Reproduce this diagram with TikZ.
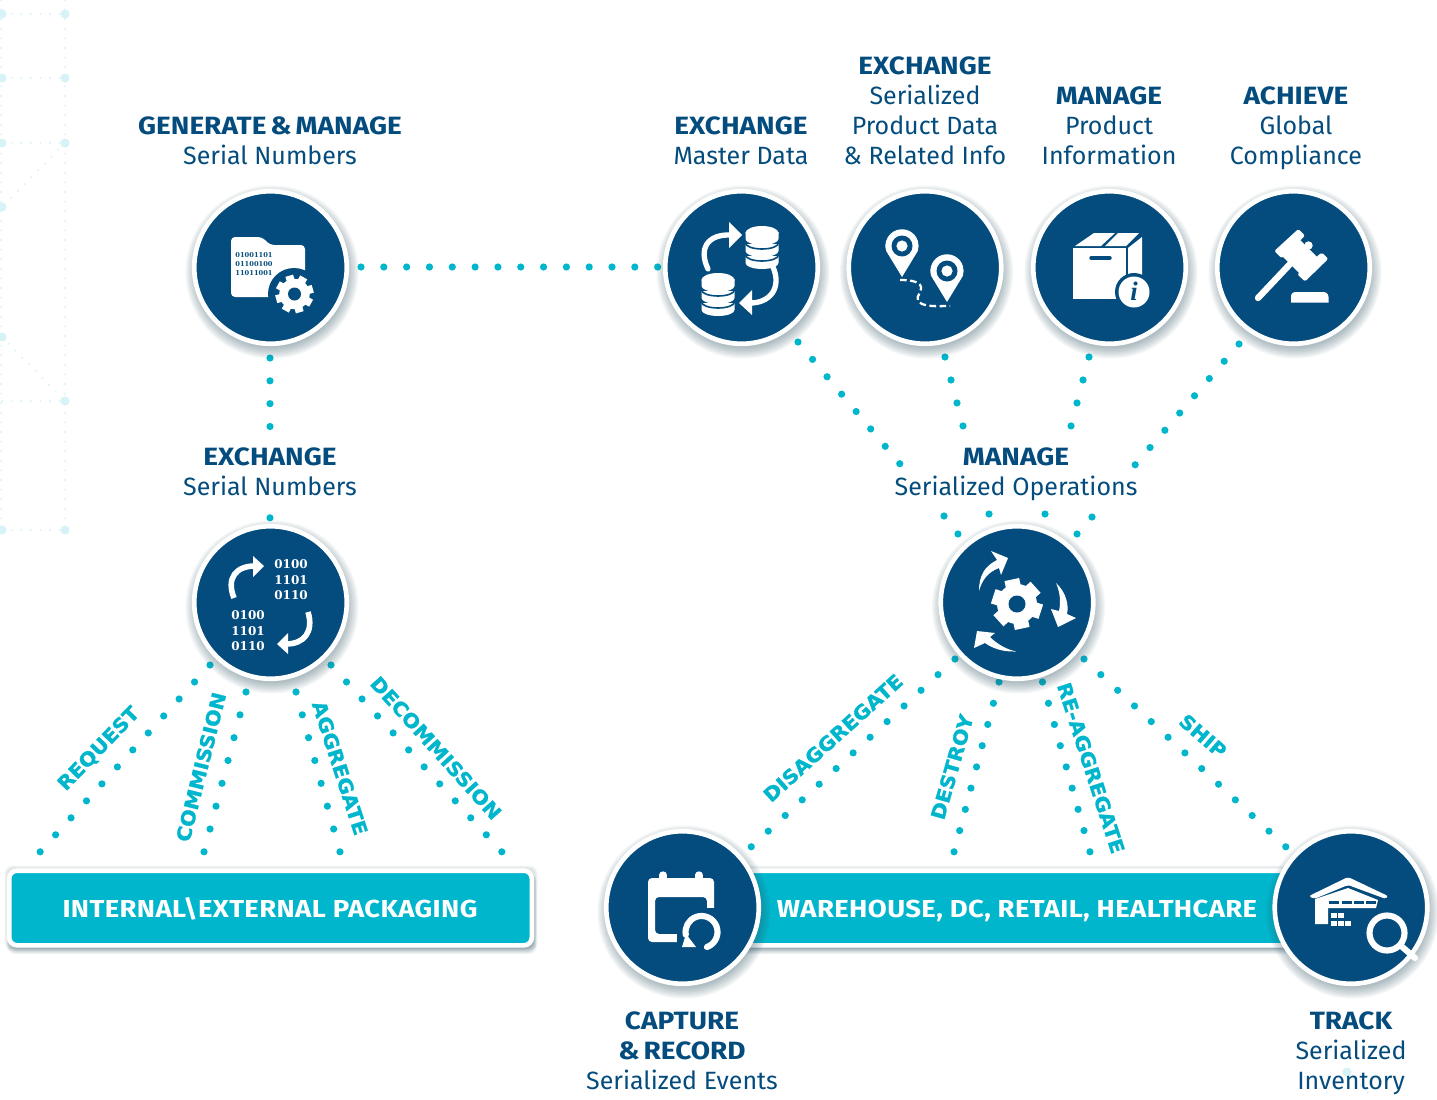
\documentclass[tikz,border=0pt]{standalone}
\usepackage{fontspec}
\usepackage{graphicx}
\setmainfont{Fira Sans}
\newfontfamily\hb{Fira Sans}[FakeStretch=1.12,WordSpace=0.6]
\newfontfamily\hbb{Fira Sans}[FakeStretch=1.12,LetterSpace=1.55]
\newfontfamily\lblfont{DejaVu Sans}[BoldFeatures={FakeStretch=1.07,FakeBold=1.2}]
\newfontfamily\binfont{DejaVu Serif}
\newfontfamily\ifont{Liberation Serif}
\usetikzlibrary{calc}
\definecolor{navy}{HTML}{044C7D}
\definecolor{tealc}{HTML}{00B6CC}
\definecolor{palec}{HTML}{D8F3F6}
\definecolor{shadc}{HTML}{2F5564}
\tikzset{
 x=0.75pt,y=-0.75pt,
 badge/.style={circle,fill=navy,draw=white,line width=3.5pt,minimum size=114.4pt,inner sep=0pt},
 dotlink/.style={draw=tealc,line width=5.4pt,line cap=round},
 paledot/.style={draw=palec,line width=1.6pt,line cap=round,dash pattern=on 0pt off 7.2pt},
 head/.style={font=\fontsize{18.75}{22.5}\selectfont,text=navy,align=center,inner sep=0pt},
 tag/.style={font=\lblfont\bfseries\fontsize{14.5}{14.5}\selectfont,text=tealc,inner sep=0pt},
 bar/.style={rounded corners=6pt,fill=tealc,draw=white,line width=3.5pt,inner sep=0pt},
 bartext/.style={inner sep=0pt,font=\hbb\bfseries\fontsize{18.4}{20}\selectfont,text=white},
 ic/.style={fill=white,draw=none},
 icl/.style={draw=white,line cap=round,line join=round},
}
\newcommand\hd[1]{{\hb\bfseries #1}}
\newcommand\dotline[3]{%
 \path let \p1=($(#2)-(#1)$) in \pgfextra{\pgfmathsetmacro\dsp{veclen(\x1,\y1)/#3-0.02}\xdef\dspx{\dsp}};
 \draw[dotlink,dash pattern=on 0pt off \dspx pt] (#1) -- (#2);}
\newcommand\circshadow[2]{%
 \foreach \r in {76,77.5,...,86.5}{\fill[shadc,opacity=.055] (#1+1.5,#2+4.5) circle[radius=\r];}}
\newcommand\boxshadow[4]{%
 \foreach \r in {0.5,1.5,2.5}{\fill[shadc,opacity=.05,rounded corners=6pt] (#1-\r-2,#2-\r-2) rectangle (#3+\r+2,#4+\r+2);}
 \foreach \r in {0,1,...,5}{\fill[shadc,opacity=.07,rounded corners=6pt] (#1-\r*0.6+1,#2+3) rectangle (#3+\r*0.6+0.5,#4+\r+3);}}
\newcommand\gearicon[7]{% x y outer toothhalf hole n hubfactor
 \fill[ic] (#1,#2) circle[radius=#3*#7];
 \foreach \a in {1,...,#6}{\fill[ic,rotate around={360*\a/#6+#6*2:(#1,#2)}] (#1-#4,#2-#3) rectangle (#1+#4,#2);}
 \fill[navy] (#1,#2) circle[radius=#5];}
\newcommand\db[2]{%
 \foreach \k in {0,12,24}{\fill[ic] (#1-16.5,#2+\k-1) -- (#1-16.5,#2+\k+6) arc[start angle=180,end angle=360,x radius=16.5,y radius=-6] -- (#1+16.5,#2+\k-1) -- cycle;}
 \foreach \k in {12,24}{\draw[navy,line width=1.2pt] (#1-16.5,#2+\k-2) arc[start angle=180,end angle=360,x radius=16.5,y radius=-6];}
 \fill[ic] (#1,#2) ellipse[x radius=16.5,y radius=7];
}
\begin{document}
\begin{tikzpicture}
\useasboundingbox (0,0) rectangle (1437,1099);
\fill[white] (0,0) rectangle (1437,1099);
% faint background network
\draw[paledot] (65,0) -- (65,530);
\draw[paledot] (1,0) -- (1,530);
\foreach \y in {14,78,143,401,530}{\draw[paledot] (2,\y) -- (65,\y);}
\draw[paledot] (65,143) -- (2,207);
\draw[paledot] (2,337) -- (65,401);
\draw[paledot] (1347,1072) -- (1326,1093);
\draw[paledot] (1347,1072) -- (1371,1096);
\foreach \x/\y in {65/14,65/78,65/143,65/401,65/530,2/14,2/78,2/143,2/207,2/337,2/530,1347/1072}{\fill[palec] (\x,\y) circle[radius=4.6];}
% connector end points
\coordinate (a1) at (361,267); \coordinate (a2) at (658,267);
\coordinate (b1) at (270,358); \coordinate (b2) at (270,518);
\coordinate (c1) at (798,342); \coordinate (c2) at (900,464); \coordinate (c3) at (944,516); \coordinate (c4) at (958,534);
\coordinate (d1) at (945,357); \coordinate (d2) at (963,426); \coordinate (d3) at (989,514); \coordinate (d4) at (995,537);
\coordinate (e1) at (1089,357); \coordinate (e2) at (1071,426); \coordinate (e3) at (1045,514); \coordinate (e4) at (1039,537);
\coordinate (f1) at (1239,344); \coordinate (f2) at (1135,465); \coordinate (f3) at (1092,517); \coordinate (f4) at (1077,534);
\coordinate (g1) at (210,665); \coordinate (g2) at (40,852);
\coordinate (h1) at (246,692); \coordinate (h2) at (204,852);
\coordinate (i1) at (296,692); \coordinate (i2) at (340,852);
\coordinate (j1) at (331,665); \coordinate (j2) at (502,852);
\coordinate (k1) at (955,659); \coordinate (k2) at (751,847);
\coordinate (l1) at (999,682); \coordinate (l2) at (954,852);
\coordinate (m1) at (1042.5,682); \coordinate (m2) at (1090,852);
\coordinate (n1) at (1084,659); \coordinate (n2) at (1286,847);
\dotline{a1}{a2}{13}
\dotline{b1}{b2}{7}
\dotline{c1}{c2}{7} \dotline{c3}{c4}{1}
\dotline{d1}{d2}{3} \dotline{d3}{d4}{1}
\dotline{e1}{e2}{3} \dotline{e3}{e4}{1}
\dotline{f1}{f2}{7} \dotline{f3}{f4}{1}
\dotline{g1}{g2}{11}
\dotline{h1}{h2}{7}
\dotline{i1}{i2}{7}
\dotline{j1}{j2}{11}
\dotline{k1}{k2}{12}
\dotline{l1}{l2}{8}
\dotline{m1}{m2}{8}
\dotline{n1}{n2}{12}
% bars
\boxshadow{9}{870}{533}{946}
\node[bar,minimum width=392pt,minimum height=56pt] (pack) at (270.5,908) {};
\node[bartext] (packt) at (270,909) {INTERNAL\textbackslash EXTERNAL PACKAGING};
\boxshadow{700}{870}{1320}{946}
\node[bar,minimum width=450pt,minimum height=56pt] (ware) at (1017,908) {};
\node[bartext] (waret) at (1017,910.5) {WAREHOUSE, DC, RETAIL, HEALTHCARE};
% badges
\circshadow{270.5}{267.5}\node[badge] (gen) at (270.5,267.5) {};
\circshadow{741.5}{267.5}\node[badge] (mdata) at (741.5,267.5) {};
\circshadow{925}{267.5}\node[badge] (pdata) at (925,267.5) {};
\circshadow{1109.5}{267.5}\node[badge] (pinfo) at (1109.5,267.5) {};
\circshadow{1293.5}{267.5}\node[badge] (comp) at (1293.5,267.5) {};
\circshadow{270.5}{602.5}\node[badge] (snum) at (270.5,602.5) {};
\circshadow{1017}{602.5}\node[badge] (ops) at (1017,602.5) {};
\circshadow{682.5}{907.5}\node[badge] (capt) at (682.5,907.5) {};
\circshadow{1351}{907.5}\node[badge] (track) at (1351,907.5) {};
% icon: folder
\fill[ic,rounded corners=3pt] (231,237) -- (262,237) -- (270,245) -- (305,245) -- (305,297) -- (231,297) -- cycle;
\fill[navy] (294,294) circle[radius=26];
\gearicon{294.5}{294}{19}{4}{6.5}{8}{0.8}
\node[inner sep=0pt,align=left,text=navy,font=\binfont\bfseries\fontsize{5}{7}\selectfont] (binf) at (254,264) {01001101\\01100100\\11011001};
% icon: database sync
\db{762}{233}
\db{718}{280}
\draw[icl,line width=4pt] (708,269) .. controls (698,248) and (708,234) .. (731,235);
\fill[ic] (729,222) -- (742,235) -- (729,248) -- cycle;
\draw[icl,line width=4pt] (773,267) .. controls (782,288) and (770,303) .. (750,303);
\fill[ic] (752,290) -- (739,303) -- (752,315) -- cycle;
% icon: pins
\foreach \x/\y in {902/246,947/271}{
 \fill[ic] (\x-15.8,\y+5) arc[start angle=162,end angle=378,radius=16.6] -- (\x,\y+31) -- cycle;
 \fill[navy] (\x,\y) circle[radius=10.5];
 \fill[ic] (\x,\y) circle[radius=5.6];}
\draw[white,line width=1.7pt,dash pattern=on 5pt off 2.6pt] (900,280) .. controls (912,280) and (922,282) .. (921,289) .. controls (920,295) and (913,299) .. (922,304) .. controls (930,307) and (940,306) .. (950,306);
% icon: box
\fill[ic] (1073,248) rectangle (1126,299);
\fill[ic] (1075,246) -- (1094,233) -- (1115,233) -- (1101,246) -- cycle;
\fill[ic] (1105,246) -- (1118,233) -- (1139,233) -- (1126,246) -- cycle;
\fill[ic] (1128,248) -- (1142,237) -- (1142,285) -- (1128,295) -- cycle;
\draw[navy,line width=2.6pt,line cap=round] (1091,258) -- (1110,258);
\fill[navy] (1134,292) circle[radius=19];
\fill[ic] (1134,292) circle[radius=15.5];
\node[inner sep=0pt,text=navy,font=\ifont\bfseries\itshape\fontsize{20}{20}\selectfont] (info) at (1134,291) {i};
% icon: gavel
\fill[ic,rounded corners=1.5pt] (1298.3,229) -- (1305,235.7) -- (1281.7,258.3) -- (1274.3,251) -- cycle;
\fill[ic,rounded corners=1.5pt] (1321.7,252.3) -- (1328.3,258.8) -- (1305,281.5) -- (1297.3,274.3) -- cycle;
\fill[ic] (1299,239) -- (1318,258) -- (1301,275) -- (1282,256) -- cycle;
\fill[ic] (1308.5,245.5) circle[radius=4.2];
\draw[icl,line width=4.8pt] (1291,263) -- (1258,298);
\fill[ic] (1291,302.5) -- (1291,297) .. controls (1291,293) and (1293,292) .. (1297,292) -- (1322,292) .. controls (1326,292) and (1328,293) .. (1328.5,297) -- (1328.5,302.5) -- cycle;
% icon: serial sync
\node[inner sep=0pt,align=center,text=white,font=\binfont\bfseries\fontsize{9}{11.7}\selectfont] (bin1) at (291,580) {0100\\1101\\0110};
\node[inner sep=0pt,align=center,text=white,font=\binfont\bfseries\fontsize{9}{11.7}\selectfont] (bin2) at (248,631) {0100\\1101\\0110};
\draw[white,line width=4.2pt] (234,598) .. controls (226,578) and (236,566) .. (255,566);
\fill[ic] (253,556) -- (264,566) -- (253,577) -- cycle;
\draw[white,line width=4.2pt] (308,612) .. controls (314,632) and (304,644) .. (286,644);
\fill[ic] (288,633) -- (277,644) -- (288,654) -- cycle;
% icon: operations
\gearicon{1017}{604}{25}{7.5}{8.5}{6}{0.8}
\fill[ic] (979,591) .. controls (979,575) and (985,566) .. (997,560) -- (991,551) -- (1008,558) -- (1001,575) -- (999,568) .. controls (988,572) and (982,580) .. (979,591) -- cycle;
\fill[ic] (1056,583) .. controls (1066,592) and (1069,605) .. (1067,614) -- (1076,618) -- (1058,627) -- (1051,609) -- (1059,611) .. controls (1061,602) and (1060,592) .. (1056,583) -- cycle;
\fill[ic] (1016,651.5) .. controls (1002,652) and (992,648) .. (985,643) -- (974,648) -- (977,631) -- (995,633) -- (990,637) .. controls (996,643) and (1005,649) .. (1016,651.5) -- cycle;
% icon: calendar
\fill[ic,even odd rule,rounded corners=3pt] (648,878) rectangle (714,942) (655,897) rectangle (707,934);
\fill[navy] (677,908) rectangle (720,950);
\fill[ic] (707,897) rectangle (714,907);
\draw[icl,line width=5.5pt] (663,875) -- (663,882);
\draw[icl,line width=5.5pt] (699,875) -- (699,882);
\draw[icl,line width=4.6pt] (707,947) arc[start angle=70,end angle=-190,radius=16];
\fill[ic] (682,947) -- (696,947) -- (686,934) -- cycle;
% icon: warehouse
\fill[ic,rounded corners=1.5pt] (1309,896) -- (1348,877) -- (1388,896) -- (1386,899) -- (1348,885) -- (1314,899) -- cycle;
\fill[ic] (1315,899) -- (1348,888) -- (1378,900) -- (1376,908) -- (1328,908) -- (1328,924) -- (1315,924) -- cycle;
\foreach \x in {1329,1342,1354,1366}{\fill[navy] (\x,901) rectangle (\x+10,904);}
\foreach \x/\y in {1331/913,1338/913,1331/921,1338/921,1345/921}{\fill[ic] (\x,\y) rectangle (\x+5.5,\y+5);}
\draw[white,line width=4.6pt] (1387,933) circle[radius=17.5];
\draw[icl,line width=4.6pt] (1400,945) -- (1415,958);
% headings
\node[head] (t1) at (270,141) {\hd{GENERATE \& MANAGE}\\Serial Numbers};
\node[head] (t2) at (741,141) {\hd{EXCHANGE}\\Master Data};
\node[head] (t3) at (925,111) {\hd{EXCHANGE}\\Serialized\\Product Data\\\& Related Info};
\node[head] (t4) at (1109,126) {\hd{MANAGE}\\Product\\Information};
\node[head] (t5) at (1296,128) {\hd{ACHIEVE}\\Global\\Compliance};
\node[head,fill=white,inner sep=5pt] (t6) at (270,472) {\hd{EXCHANGE}\\Serial Numbers};
\node[head] (t7) at (1016,474) {\hd{MANAGE}\\Serialized Operations};
\node[head] (t8) at (682,1051) {\hd{CAPTURE}\\\hd{\& RECORD}\\Serialized Events};
\node[head] (t9) at (1351,1053) {\hd{TRACK}\\Serialized\\Inventory};
% tags
\node[tag,rotate=46] (r1) at (99,749) {REQUEST};
\node[tag,rotate=76] (r2) at (201,767) {COMMISSION};
\node[tag,rotate=-72] (r3) at (340,768) {AGGREGATE};
\node[tag,rotate=-48] (r4) at (436,748) {DECOMMISSION};
\node[tag,rotate=42] (r5) at (833,738) {DISAGGREGATE};
\node[tag,rotate=74] (r6) at (952,767) {DESTROY};
\node[tag,rotate=-72] (r7) at (1091,768) {RE-AGGREGATE};
\node[tag,rotate=-41] (r8) at (1203,736) {SHIP};
\end{tikzpicture}
\end{document}
